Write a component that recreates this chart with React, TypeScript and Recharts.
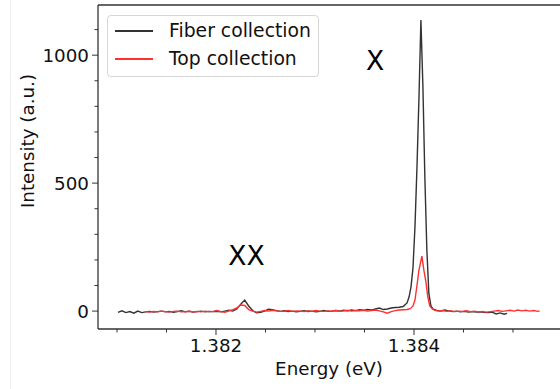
import React from 'react';
import {
  LineChart,
  Line,
  XAxis,
  YAxis,
  Legend,
  ReferenceLine,
  ReferenceDot,
  Label,
} from 'recharts';

// [energy (eV), intensity (a.u.)]
const fiberPoints: [number, number][] = [
  [1.38101, -5], [1.38105, 1], [1.38109, -6], [1.38113, -2], [1.38117, -8], [1.38121, 0], [1.38125, -6], [1.38129, -3],
  [1.38133, -1], [1.38137, -4], [1.38141, -2], [1.38145, 0], [1.38149, -3], [1.38153, -1], [1.38157, -5], [1.38161, -2],
  [1.38165, 1], [1.38169, -3], [1.38173, -1], [1.38177, -4], [1.38181, -2], [1.38185, 0], [1.38189, -3], [1.38193, -1],
  [1.38197, -2], [1.38201, -1], [1.38205, -3], [1.38209, 0], [1.38213, 3], [1.38217, 0], [1.38221, 8], [1.38225, 27],
  [1.38229, 43], [1.38233, 20], [1.38237, 2], [1.38241, -7], [1.38245, -5], [1.38249, 0], [1.38253, 7], [1.38257, 5],
  [1.38261, 2], [1.38265, -1], [1.38269, 1], [1.38273, -2], [1.38277, 0], [1.38281, -3], [1.38285, -1], [1.38289, 1],
  [1.38293, -2], [1.38297, 0], [1.38301, -3], [1.38305, -1], [1.38309, 2], [1.38313, -1], [1.38317, 0], [1.38321, 2],
  [1.38325, 0], [1.38329, 3], [1.38333, 1], [1.38337, 4], [1.38341, 2], [1.38345, 5], [1.38349, 3], [1.38353, 6],
  [1.38357, 4], [1.38361, 8], [1.38365, 12], [1.38369, 6], [1.38373, 8], [1.38377, 12], [1.38381, 14], [1.38385, 15],
  [1.38389, 18], [1.38393, 32], [1.38395, 55], [1.38397, 95], [1.38399, 170], [1.38401, 330], [1.38403, 560],
  [1.38405, 830], [1.38407, 1137], [1.38409, 880], [1.38411, 520], [1.38413, 240], [1.38415, 70], [1.38417, 22],
  [1.38419, 8], [1.38423, 3], [1.38427, 0], [1.38431, 4], [1.38435, 1], [1.38439, -2], [1.38443, 0], [1.38447, -3],
  [1.38451, -1], [1.38455, -4], [1.38459, -2], [1.38463, -4], [1.38467, -3], [1.38471, -5], [1.38475, -6],
  [1.38479, -4], [1.38483, -11], [1.38487, -7], [1.38491, -12], [1.38494, -9],
];

const topPoints: [number, number][] = [
  [1.38129, -2], [1.38133, -4], [1.38137, -1], [1.38141, -3], [1.38145, 0], [1.38149, -2], [1.38153, -4], [1.38157, -1],
  [1.38161, 0], [1.38165, -3], [1.38169, -2], [1.38173, 0], [1.38177, -4], [1.38181, -1], [1.38185, -3], [1.38189, 0],
  [1.38193, -2], [1.38197, -1], [1.38201, 2], [1.38205, -2], [1.38209, -5], [1.38213, 1], [1.38217, 6], [1.38221, 12],
  [1.38225, 24], [1.38229, 22], [1.38233, 6], [1.38237, 0], [1.38241, -4], [1.38245, -1], [1.38249, 2], [1.38253, 0],
  [1.38257, 3], [1.38261, 1], [1.38265, -1], [1.38269, 0], [1.38273, 2], [1.38277, -1], [1.38281, 1], [1.38285, 0],
  [1.38289, -2], [1.38293, 1], [1.38297, -1], [1.38301, 2], [1.38305, 0], [1.38309, -1], [1.38313, 1], [1.38317, 0],
  [1.38321, 2], [1.38325, -1], [1.38329, 1], [1.38333, 3], [1.38337, 0], [1.38341, 2], [1.38345, 1], [1.38349, 3],
  [1.38353, 0], [1.38357, 2], [1.38361, 4], [1.38365, 1], [1.38369, -3], [1.38373, -8], [1.38377, -2], [1.38381, 2],
  [1.38385, 4], [1.38389, 5], [1.38393, 6], [1.38395, 8], [1.38397, 12], [1.38399, 20], [1.38401, 43], [1.38403, 100],
  [1.38405, 160], [1.38408, 215], [1.3841, 160], [1.38412, 115], [1.38414, 55], [1.38416, 20], [1.38418, 10],
  [1.38421, 3], [1.38425, 0], [1.38429, 2], [1.38433, -1], [1.38437, 1], [1.38441, -2], [1.38445, 0], [1.38449, -1],
  [1.38453, 1], [1.38457, -2], [1.38461, 0], [1.38465, -3], [1.38469, -1], [1.38473, -4], [1.38477, -2], [1.38481, 0],
  [1.38485, 2], [1.38489, -1], [1.38493, 1], [1.38497, 3], [1.38501, 0], [1.38505, 4], [1.38509, 1], [1.38513, 3],
  [1.38517, 0], [1.38521, 2], [1.38525, -1], [1.38527, 1],
];

const xTicks = [1.381, 1.3815, 1.382, 1.3825, 1.383, 1.3835, 1.384, 1.3845, 1.385];
const xMajor = [1.382, 1.384];
const yTicks = [0, 100, 200, 300, 400, 500, 600, 700, 800, 900, 1000, 1100];
const yMajor = [0, 500, 1000];
const xDomain = [1.380808, 1.385475];
const yDomain = [-70, 1196];

const legendItems = [
  { name: 'Fiber collection', color: '#333333' },
  { name: 'Top collection', color: '#ff3030' },
];

const peakLabels = [
  { text: 'X', e: 1.383606, v: 980 },
  { text: 'XX', e: 1.382308, v: 215 },
];

const FONT = '"DejaVu Sans", sans-serif';
const AXIS = '#333';

const fiberData = fiberPoints.map(([e, v]) => ({ e, v }));
const topData = topPoints.map(([e, v]) => ({ e, v }));

const isMajor = (list: number[], v: number) => list.some((m) => Math.abs(m - v) < 1e-7);

const YTick = (props: any) => {
  const { x, y, payload } = props;
  const major = isMajor(yMajor, payload.value);
  return (
    <g>
      <line x1={x - (major ? 6 : 3.5)} x2={x} y1={y} y2={y} stroke={AXIS} strokeWidth={1} />
      {major && (
        <text x={x - 9} y={y + 6.5} textAnchor="end" fontSize={18.3} fill="#111" fontFamily={FONT}>
          {payload.value}
        </text>
      )}
    </g>
  );
};

const XTick = (props: any) => {
  const { x, y, payload } = props;
  const major = isMajor(xMajor, payload.value);
  return (
    <g>
      <line x1={x} x2={x} y1={y} y2={y + (major ? 6 : 3.5)} stroke={AXIS} strokeWidth={1} />
      {major && (
        <text x={x} y={y + 23} textAnchor="middle" fontSize={18.3} fill="#111" fontFamily={FONT}>
          {payload.value.toFixed(3)}
        </text>
      )}
    </g>
  );
};

const LegendBox = () => (
  <div
    style={{
      boxSizing: 'border-box',
      width: 212,
      height: 62,
      border: '1px solid #d6d6d6',
      borderRadius: 4,
      background: 'rgba(255,255,255,0.8)',
      paddingTop: 1,
      fontFamily: FONT,
    }}
  >
    {legendItems.map((item) => (
      <div key={item.name} style={{ display: 'flex', alignItems: 'center', height: 28 }}>
        <span style={{ display: 'block', width: 38, height: 1.5, marginLeft: 7, background: item.color }} />
        <span style={{ marginLeft: 16, fontSize: 18.8, lineHeight: '28px', color: '#111', whiteSpace: 'nowrap' }}>{item.name}</span>
      </div>
    ))}
  </div>
);

export default function App() {
  return (
    <div style={{ position: 'absolute', left: 0, top: 0, width: 560, height: 389, overflow: 'hidden', background: '#fff', fontFamily: FONT }}>
      <div style={{ position: 'absolute', left: 10, top: 0, width: 1, height: 389, background: '#eeeeee' }} />
      <LineChart width={560} height={389} margin={{ top: 5, right: 0, bottom: 0, left: 0 }}>
        <XAxis
          dataKey="e"
          type="number"
          domain={xDomain}
          allowDataOverflow
          ticks={xTicks}
          interval={0}
          tick={<XTick />}
          tickLine={false}
          tickSize={0}
          tickMargin={0}
          height={60}
          axisLine={{ stroke: AXIS, strokeWidth: 1.3 }}
        >
          <Label
            content={(p: any) => (
              <text x={p.viewBox.x + p.viewBox.width / 2} y={p.viewBox.y + 46} textAnchor="middle" fontSize={18.3} fill="#111" fontFamily={FONT}>
                Energy (eV)
              </text>
            )}
          />
        </XAxis>
        <YAxis
          type="number"
          domain={yDomain}
          allowDataOverflow
          ticks={yTicks}
          interval={0}
          tick={<YTick />}
          tickLine={false}
          tickSize={0}
          tickMargin={0}
          width={98}
          axisLine={{ stroke: AXIS, strokeWidth: 1.3 }}
        >
          <Label
            content={() => (
              <text transform="translate(34,141) rotate(-90)" textAnchor="middle" fontSize={18.3} fill="#111" fontFamily={FONT}>
                Intensity (a.u.)
              </text>
            )}
          />
        </YAxis>
        <ReferenceLine y={yDomain[1]} stroke={AXIS} strokeWidth={1.3} />
        <Line
          data={fiberData}
          dataKey="v"
          name="Fiber collection"
          type="linear"
          stroke="#333333"
          strokeWidth={1.4}
          dot={false}
          isAnimationActive={false}
        />
        <Line
          data={topData}
          dataKey="v"
          name="Top collection"
          type="linear"
          stroke="#ff3030"
          strokeWidth={1.4}
          dot={false}
          isAnimationActive={false}
        />
        {peakLabels.map((p) => (
          <ReferenceDot
            key={p.text}
            x={p.e}
            y={p.v}
            r={1}
            fill="none"
            stroke="none"
            label={{ value: p.text, position: 'center', fontSize: 26.5, fill: '#000', fontFamily: FONT }}
          />
        ))}
        <Legend
          layout="vertical"
          align="center"
          verticalAlign="middle"
          content={<LegendBox />}
          wrapperStyle={{ left: 107, top: 15, width: 212, height: 62 }}
        />
      </LineChart>
    </div>
  );
}
